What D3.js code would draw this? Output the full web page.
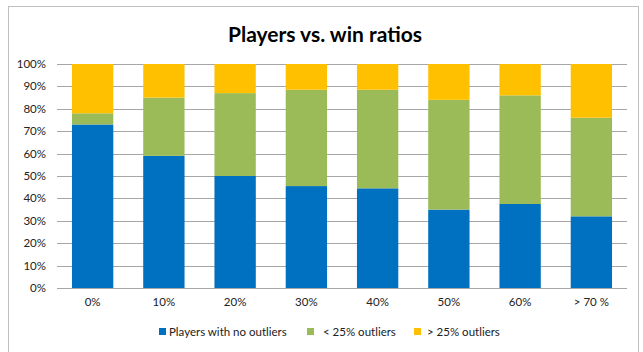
<!DOCTYPE html>
<html>
<head>
<meta charset="utf-8">
<script src="https://cdn.jsdelivr.net/npm/d3@7"></script>
<style>
  body { margin: 0; background: #fff; }
  svg { display: block; font-family: Lato, "Open Sans", sans-serif; }
</style>
</head>
<body>
<svg width="643" height="352"></svg>
<script>
// data (percent of players per win-ratio bucket)
var categories = ['0%', '10%', '20%', '30%', '40%', '50%', '60%', '> 70 %'];
var seriesNames = ['Players with no outliers', '< 25% outliers', '> 25% outliers'];
var noOutliers = [73, 59, 50, 45.5, 44.5, 35, 37.5, 32];
var under25 = [5, 26, 37, 43, 44, 49, 48.5, 44];
var over25 = [22, 15, 13, 11.5, 11.5, 16, 14, 24];
var yTicks = [0, 10, 20, 30, 40, 50, 60, 70, 80, 90, 100];
var colors = ['#0070C0', '#9BBB59', '#FFC000'];

var svg = d3.select('svg'),
  margin = { top: 64, right: 16, bottom: 64, left: 57 },
  width = +svg.attr('width') - margin.left - margin.right,
  height = +svg.attr('height') - margin.top - margin.bottom;

// chart frame
svg.append('rect')
  .attr('x', 8.5).attr('y', 6.5)
  .attr('width', 630).attr('height', 350)
  .attr('fill', 'none')
  .attr('stroke', '#bfbfbf');

// title
svg.append('text')
  .attr('x', 325)
  .attr('y', 42)
  .attr('text-anchor', 'middle')
  .style('font-size', '21px')
  .style('font-weight', 'bold')
  .text('Players vs. win ratios');

var g = svg.append('g').attr('transform', 'translate(' + margin.left + ',' + margin.top + ')');

var x = d3.scaleBand().domain(categories).range([0, width]).paddingInner(0.42).paddingOuter(0.21);
var y = d3.scaleLinear().domain([0, 100]).range([height, 0]);

// gridlines
g.selectAll('.grid')
  .data(yTicks)
  .enter().append('line')
  .attr('x1', 0).attr('x2', width)
  .attr('y1', function(d) { return Math.round(y(d)) + 0.5; })
  .attr('y2', function(d) { return Math.round(y(d)) + 0.5; })
  .attr('stroke', '#a6a6a6');

// y labels
g.selectAll('.ylab')
  .data(yTicks)
  .enter().append('text')
  .attr('x', -11)
  .attr('y', function(d) { return y(d); })
  .attr('dy', '0.35em')
  .attr('text-anchor', 'end')
  .style('font-size', '11.5px')
  .attr('fill', '#222')
  .text(function(d) { return d + '%'; });

// stacked bars
var rows = categories.map(function(c, i) {
  return { cat: c, a: noOutliers[i], b: under25[i], c: over25[i] };
});
var stack = d3.stack().keys(['a', 'b', 'c']);
var layers = stack(rows);

g.selectAll('.layer')
  .data(layers)
  .enter().append('g')
  .attr('fill', function(d, i) { return colors[i]; })
  .selectAll('rect')
  .data(function(d) { return d; })
  .enter().append('rect')
  .attr('x', function(d) { return x(d.data.cat); })
  .attr('width', x.bandwidth())
  .attr('y', function(d) { return y(d[1]); })
  .attr('height', function(d) { return y(d[0]) - y(d[1]); });

// x labels
g.selectAll('.xlab')
  .data(categories)
  .enter().append('text')
  .attr('x', function(d) { return x(d) + x.bandwidth() / 2; })
  .attr('y', height + 14)
  .attr('dy', '0.35em')
  .attr('text-anchor', 'middle')
  .style('font-size', '11.5px')
  .attr('fill', '#222')
  .text(function(d) { return d; });

// legend
var legendX = [159, 307, 414];
var textGap = [10, 16, 13];
var legend = svg.append('g');
seriesNames.forEach(function(name, i) {
  legend.append('rect')
    .attr('x', legendX[i]).attr('y', 328)
    .attr('width', 7).attr('height', 7)
    .attr('fill', colors[i]);
  legend.append('text')
    .attr('x', legendX[i] + textGap[i])
    .attr('y', 332)
    .attr('dy', '0.35em')
    .style('font-size', '11.5px')
    .attr('fill', '#222')
    .text(name);
});
</script>
</body>
</html>
